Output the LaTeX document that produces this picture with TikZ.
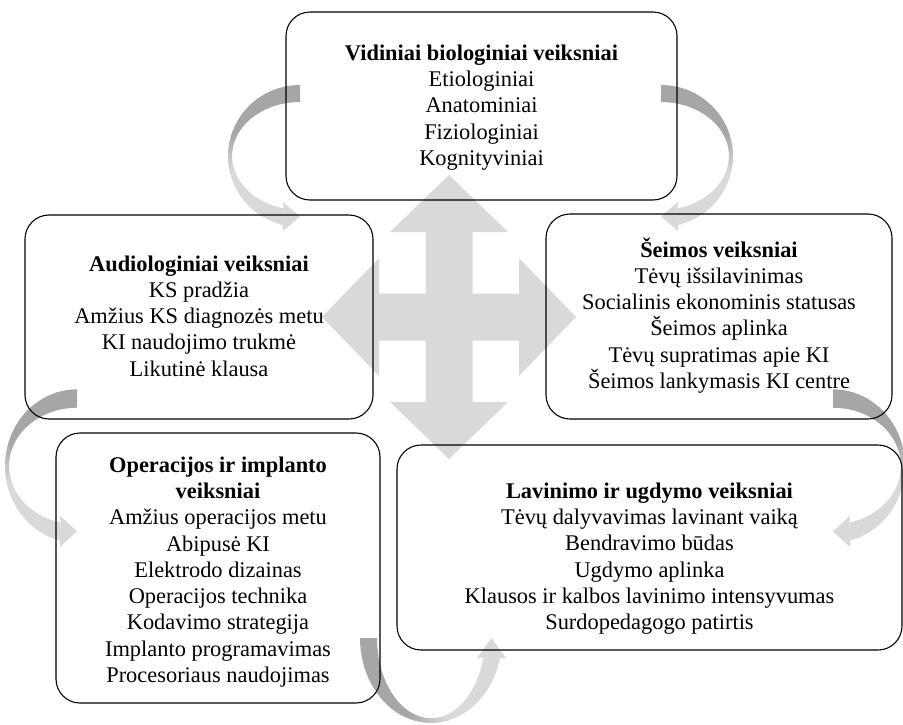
\documentclass[tikz,border=0pt]{standalone}
\usepackage{fontspec}
\setmainfont{Liberation Serif}
\definecolor{bandlight}{RGB}{217,217,217}
\definecolor{banddark}{RGB}{166,166,166}
\definecolor{crossgray}{RGB}{217,217,217}

\tikzset{
  factorbox/.style={draw=black, line width=1.1pt, rounded corners=24pt, inner sep=0pt},
  factortext/.style={align=center, inner sep=0pt, font=\fontsize{22.4}{26.3}\selectfont},
}

% curved ribbon arrow: dark tail fading into a light head
\newcommand\bentarrow[1]{%
  \begin{scope}[#1]
    \foreach \k in {0,...,41}{%
      \pgfmathsetmacro\angA{270-4*\k}%
      \pgfmathsetmacro\angB{max(270-4*(\k+1)-0.8,104)}%
      \pgfmathtruncatemacro\lightpct{min(100,max(0,(200-(\angA+\angB)/2)*100/35))}%
      \fill[bandlight!\lightpct!banddark] (\angA:72 and 71) -- (\angB:72 and 71)
        -- (\angB:68 and 54) -- (\angA:68 and 54) -- cycle;
    }
    \fill[bandlight] (104:72 and 71) -- (-17,75) -- (0,60.5) -- (-17,46)
      -- (104:68 and 54) -- cycle;
  \end{scope}}

\begin{document}
\begin{tikzpicture}[x=1pt, y=-1pt]
\useasboundingbox (0,0) rectangle (903,724);

% four-way arrow in the middle
\fill[crossgray] (449,175) -- (508,232) -- (472.5,232) -- (472.5,293.5)
  -- (519,293.5) -- (519,258) -- (576,317) -- (519,376) -- (519,340.5)
  -- (472.5,340.5) -- (472.5,402) -- (508,402) -- (449,459) -- (390,402)
  -- (425.5,402) -- (425.5,340.5) -- (379,340.5) -- (379,376) -- (322,317)
  -- (379,258) -- (379,293.5) -- (425.5,293.5) -- (425.5,232) -- (390,232)
  -- cycle;

% curved arrows between neighbouring boxes
\bentarrow{shift={(300,156)}}
\bentarrow{shift={(661,156)}, xscale=-1}
\bentarrow{shift={(77,466)}, yscale=1.08}
\bentarrow{shift={(833,466)}, xscale=-1, yscale=1.08}
\bentarrow{shift={(431,638)}, rotate=90, xscale=1.18}

% boxes
\node[factorbox, minimum width=391pt, minimum height=188pt] (bio) at (481.5,106) {};
\node[factorbox, minimum width=348pt, minimum height=204pt] (audio) at (199,317) {};
\node[factorbox, minimum width=346pt, minimum height=205pt] (family) at (719,316.5) {};
\node[factorbox, minimum width=324pt, minimum height=270pt] (surgery) at (218,568) {};
\node[factorbox, minimum width=505pt, minimum height=205pt] (education) at (649.5,547.5) {};

% texts
\node[factortext] (biotext) at (481.5,107.4) {\textbf{Vidiniai biologiniai veiksniai}\\
  Etiologiniai\\ Anatominiai\\ Fiziologiniai\\ Kognityviniai};
\node[factortext] (audiotext) at (199,316) {\textbf{Audiologiniai veiksniai}\\
  KS pradžia\\ Amžius KS diagnozės metu\\ KI naudojimo trukmė\\ Likutinė klausa};
\node[factortext] (familytext) at (719,315.5) {\textbf{Šeimos veiksniai}\\
  Tėvų išsilavinimas\\ Socialinis ekonominis statusas\\ Šeimos aplinka\\
  Tėvų supratimas apie KI\\ Šeimos lankymasis KI centre};
\node[factortext] (surgerytext) at (218,572) {\textbf{Operacijos ir implanto}\\
  \textbf{veiksniai}\\ Amžius operacijos metu\\ Abipusė KI\\ Elektrodo dizainas\\
  Operacijos technika\\ Kodavimo strategija\\ Implanto programavimas\\
  Procesoriaus naudojimas};
\node[factortext] (educationtext) at (649.5,558.5) {\textbf{Lavinimo ir ugdymo veiksniai}\\
  Tėvų dalyvavimas lavinant vaiką\\ Bendravimo būdas\\ Ugdymo aplinka\\
  Klausos ir kalbos lavinimo intensyvumas\\ Surdopedagogo patirtis};
\end{tikzpicture}
\end{document}
